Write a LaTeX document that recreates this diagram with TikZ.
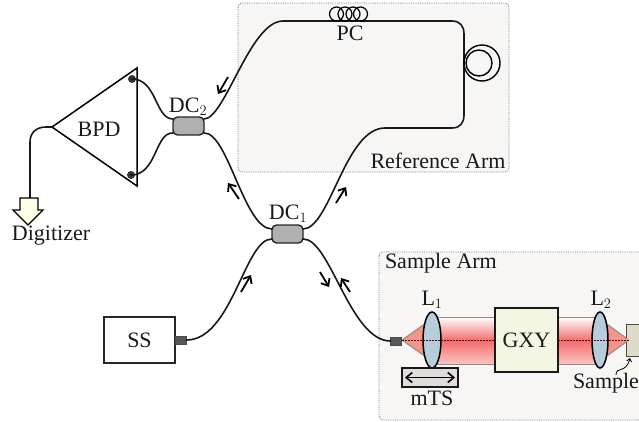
\documentclass[tikz,border=0pt]{standalone}
\usepackage{fontspec}
\setmainfont{Liberation Serif}
\usetikzlibrary{arrows.meta,calc,shapes.geometric}
\definecolor{panelfill}{HTML}{F7F6F5}
\definecolor{panelline}{HTML}{777777}
\definecolor{dcfill}{HTML}{B0B0B0}
\definecolor{linefill}{HTML}{5A5757}
\definecolor{lensfill}{HTML}{B8CDDB}
\definecolor{gxyfill}{HTML}{F3F6E2}
\definecolor{samplefill}{HTML}{DDDCC8}
\definecolor{mtsfill}{HTML}{E0DCDC}
\definecolor{beamred}{HTML}{F46C6C}
\definecolor{coneRed}{HTML}{F59488}
\definecolor{digifill}{HTML}{FFFDE6}
\tikzset{
  x=1pt,y=-1pt,
  every node/.style={font=\fontsize{22}{23}\selectfont,inner sep=0pt,outer sep=0pt,text=black!90},
  panel/.style={draw=panelline,fill=panelfill,densely dotted,line width=.8pt,rounded corners=4pt},
  fibre/.style={draw=black!90,line width=1.6pt,line cap=round},
  coupler/.style={draw=black!85,fill=dcfill,line width=1.4pt,rounded corners=4.5pt,minimum width=31pt,minimum height=18pt},
  conn/.style={draw=black!70,fill=linefill,line width=.5pt,minimum width=11pt,minimum height=8pt},
  flow/.style={draw=black,line width=1.8pt,-{Straight Barb[length=6pt,width=10pt]}},
  box/.style={draw=black!85,line width=1.4pt},
  lens/.style={draw=black,fill=lensfill,line width=1.5pt},
  beamedge/.style={draw=black!45,line width=1pt},
}
\begin{document}
\begin{tikzpicture}
\useasboundingbox (0,0) rectangle (639,421);
% panels
\draw[panel] (238,3) rectangle (509,172);
\draw[panel] (379,252) rectangle (650,420);
\node at (438,161) {Reference Arm};
\node[anchor=west] at (385,263) {Sample Arm};
% detector
\coordinate (apex) at (52,127);
\coordinate (tr) at (137,68);
\coordinate (br) at (137,186);
\draw[line width=1.5pt,line join=miter] (apex) -- (tr) -- (br) -- cycle;
\node at (99,129) {BPD};
\node[circle,fill=black!80,minimum size=8pt] (pd1) at (132,79) {};
\node[circle,fill=black!80,minimum size=8pt] (pd2) at (131,175) {};
% couplers
\node[coupler] (dc2) at (188.5,126) {};
\node[coupler] (dc1) at (287.5,234) {};
\node at (188,107) {DC$_{\fontsize{15}{15}\selectfont 2}$};
\node at (288,214) {DC$_{\fontsize{15}{15}\selectfont 1}$};
% fibres
\draw[fibre] (pd1.center) .. controls (157,79) and (155,119) .. ($(dc2.north west)+(0,2)$);
\draw[fibre] (pd2.center) .. controls (157,175) and (155,132) .. ($(dc2.south west)+(0,-2)$);
\coordinate (d1) at (30,198);
\draw[fibre] (apex) -- (46,127) .. controls (36,127) and (30,133) .. (30,142) -- (d1);
\draw[fibre] ($(dc2.north east)+(0,2)$) .. controls (225,119) and (250,21) .. (283,21)
  -- (452,21) .. controls (460,21) and (464,26) .. (464,34) -- (464,115) .. controls (464,123) and (460,128) .. (452,128)
  -- (385,128) .. controls (345,128) and (330,229) .. ($(dc1.north east)+(0,4)$);
\draw[fibre] ($(dc2.south east)+(0,-2)$) .. controls (228,132) and (244,229) .. ($(dc1.north west)+(0,4)$);
\node[box,fill=white,minimum width=71pt,minimum height=46pt] (ss) at (139.5,340) {SS};
\node[conn,anchor=west] (ssc) at (175.5,340) {};
\node[conn,anchor=west] (arm) at (390.5,341) {};
\draw[fibre] (ssc.east) .. controls (232,340) and (245,238) .. ($(dc1.south west)+(0,-4)$);
\draw[fibre] ($(dc1.south east)+(0,-4)$) .. controls (330,238) and (350,341) .. (arm.west);
% polarization controller and loop
\foreach \cx in {336.5,345,353,360.5} \draw[line width=1.2pt] (\cx,14) circle (7);
\node at (350,33) {PC};
\draw[line width=1.4pt] (482,63) circle (18);
\draw[line width=1.4pt] (479,63) circle (13);
% flow arrows
\draw[flow] (228,77) -- (218,94);
\draw[flow] (239,199) -- (228,183);
\draw[flow] (241,292) -- (251,275);
\draw[flow] (320,272) -- (329,287);
\draw[flow] (350,292) -- (341,278);
\draw[flow] (336,203) -- (346,187);
% digitizer arrow
\draw[line width=1.3pt,fill=digifill,line join=miter] (d1) -- (38,198) -- (38,210) -- (43,210) -- (28,225) -- (13,210) -- (20,210) -- (20,198) -- cycle;
\node at (51,236) {Digitizer};
% optical beam
\fill[coneRed] (402,340) -- (426,323) -- (426,357) -- cycle;
\fill[top color=white,bottom color=beamred] (432,317) rectangle (498,340.5);
\fill[top color=beamred,bottom color=white!60!beamred] (432,340.5) rectangle (498,364);
\fill[top color=white,bottom color=beamred] (555,317) rectangle (600,340.5);
\fill[top color=beamred,bottom color=white!60!beamred] (555,340.5) rectangle (600,364);
\fill[coneRed] (629,340) -- (604,322) -- (604,358) -- cycle;
\draw[beamedge] (402,340) -- (426,323) (402,340) -- (426,357);
\draw[beamedge] (629,340) -- (604,322) (629,340) -- (604,358);
\draw[beamedge] (432,317) -- (498,317) (432,364) -- (498,364);
\draw[beamedge] (555,317) -- (600,317) (555,364) -- (600,364);
% sample, lenses, scanner
\node[draw=black!70,fill=samplefill,line width=.9pt,minimum width=30pt,minimum height=32pt,anchor=west] (smp) at (626,340) {};
\fill[coneRed] (629,340) -- (626,338) -- (626,342) -- cycle;
\node[lens,ellipse,minimum width=18pt,minimum height=56pt] (l1) at (432,340) {};
\node[lens,ellipse,minimum width=16pt,minimum height=56pt] (l2) at (600,340) {};
\draw[dash pattern=on 2pt off 1pt,draw=red!35!black,line width=.5pt] (402,340.5) -- (495,340.5) (558,340.5) -- (629,340.5);
\node[box,draw=black!90,line width=1.5pt,fill=gxyfill,minimum width=63pt,minimum height=64pt] (gxy) at (526.5,340) {GXY};
\node at (432,300) {L$_{\fontsize{15}{15}\selectfont 1}$};
\node at (601,300) {L$_{\fontsize{15}{15}\selectfont 2}$};
\node[draw=black!90,line width=1.4pt,fill=mtsfill,minimum width=56pt,minimum height=19pt] (mts) at (430,377.5) {};
\draw[line width=1.6pt,{Straight Barb[length=6pt,width=10pt]}-{Straight Barb[length=6pt,width=10pt]}] ($(mts.west)+(3,0)$) -- ($(mts.east)+(-3,0)$);
\node at (432,398) {mTS};
\node (slab) at (606,383) {Sample};
\draw[line width=.8pt,-{Straight Barb[length=3pt,width=5pt]}] (616,375) .. controls (616,366) and (626,374) .. (630,358);
\end{tikzpicture}
\end{document}
